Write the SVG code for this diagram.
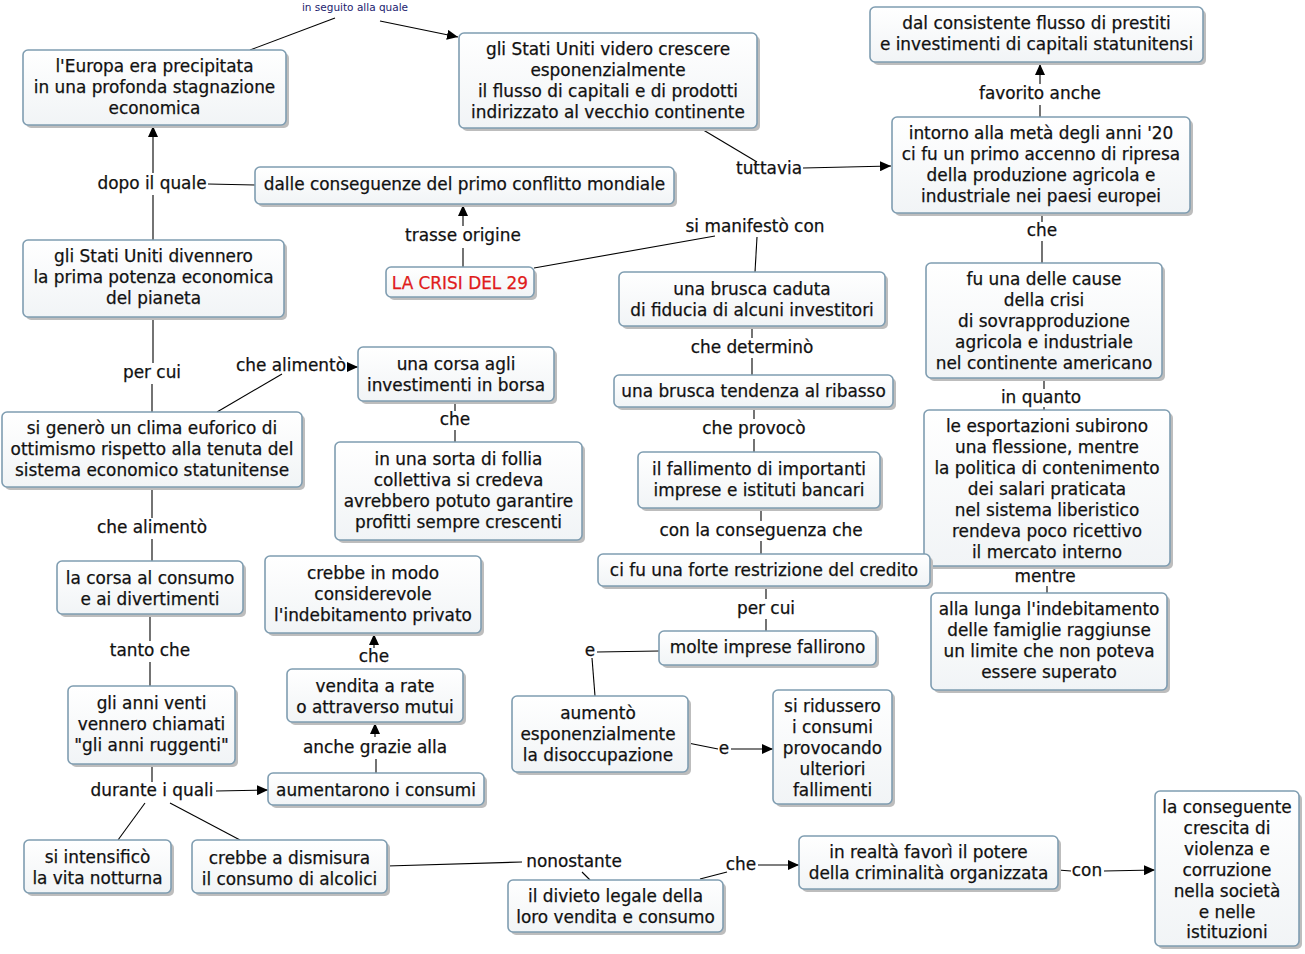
<svg xmlns="http://www.w3.org/2000/svg" width="1305" height="954" viewBox="0 0 1305 954">
<defs>
<linearGradient id="g" x1="0" y1="0" x2="0" y2="1"><stop offset="0" stop-color="#ffffff"/><stop offset="1" stop-color="#f1f4f6"/></linearGradient>
<marker id="ah" markerUnits="userSpaceOnUse" markerWidth="12" markerHeight="10" refX="11" refY="5" orient="auto"><path d="M0,0 L11,5 L0,10 Z" fill="#000"/></marker>
<style>
.n .s{fill:#bdbdbd}
.n .b{fill:url(#g);stroke:#7f9db1;stroke-width:1.6}
text{font-family:"DejaVu Sans","Liberation Sans",sans-serif;font-size:16.9px;fill:#111;stroke:#111;stroke-width:0.25;text-anchor:middle}
text.red{fill:#e01b1b;stroke:#e01b1b}
text.small{font-size:10.5px;fill:#1c1c6e;stroke:none}
#c path{fill:none;stroke:#000;stroke-width:1.1}
#c path.a{marker-end:url(#ah)}
</style>
</defs>
<rect width="1305" height="954" fill="#fff"/>
<g id="c">
<path d="M250,50 L335,18"/><path class="a" d="M380,21 L458,37"/>
<path d="M153,240 L153,195"/><path class="a" d="M153,173 L153,126"/>
<path d="M255,185 L208,184"/>
<path d="M463,267 L463,248"/><path class="a" d="M463,226 L463,205"/>
<path d="M534,268 L715,236"/><path d="M757,237 L755,272"/>
<path d="M700,128 L757,162"/><path class="a" d="M803,168 L891,166"/>
<path d="M1040,117 L1040,105"/><path class="a" d="M1040,84 L1040,64"/>
<path d="M1042,213 L1042,222"/><path d="M1042,241 L1042,263"/>
<path d="M1044,378 L1044,389"/><path d="M1044,407 L1044,410"/>
<path d="M1047,566 L1047,569"/><path d="M1047,586 L1047,593"/>
<path d="M153,317 L153,363"/><path d="M152,384 L152,412"/>
<path d="M217,412 L282,374"/><path class="a" d="M349,367 L358,367"/>
<path d="M455,401 L455,411"/><path d="M455,430 L455,442"/>
<path d="M152,487 L152,518"/><path d="M152,539 L152,561"/>
<path d="M150,614 L150,641"/><path d="M150,662 L150,686"/>
<path d="M152,764 L152,782"/><path class="a" d="M216,791 L268,790"/><path d="M145,803 L118,840"/><path d="M170,803 L240,840"/>
<path class="a" d="M374,648 L374,634"/>
<path d="M376,773 L376,759"/><path class="a" d="M375,737 L375,723"/>
<path d="M752,326 L752,338"/><path d="M752,358 L752,375"/>
<path d="M754,407 L754,419"/><path d="M754,439 L754,452"/>
<path d="M761,508 L761,521"/><path d="M761,541 L761,554"/>
<path d="M766,586 L766,599"/><path d="M766,619 L766,631"/>
<path d="M659,651 L597,652"/><path d="M592,658 L595,696"/>
<path d="M688,743 L718,749"/><path class="a" d="M731,749 L773,749"/>
<path d="M387,866 L522,862"/><path d="M582,872 L590,880"/>
<path d="M700,879 L727,872"/><path class="a" d="M758,865 L799,865"/>
<path d="M1058,870 L1071,871"/><path class="a" d="M1104,871 L1155,870"/>
</g>
<g id="labels">
<text class="small" x="355" y="11">in seguito alla quale</text>
<text x="152" y="189">dopo il quale</text>
<text x="463" y="241">trasse origine</text>
<text x="755" y="232">si manifestò con</text>
<text x="769" y="174">tuttavia</text>
<text x="1040" y="99">favorito anche</text>
<text x="1042" y="236">che</text>
<text x="1041" y="403">in quanto</text>
<text x="1045" y="582">mentre</text>
<text x="152" y="378">per cui</text>
<text x="291" y="371">che alimentò</text>
<text x="455" y="425">che</text>
<text x="152" y="533">che alimentò</text>
<text x="150" y="656">tanto che</text>
<text x="152" y="796">durante i quali</text>
<text x="374" y="662">che</text>
<text x="375" y="753">anche grazie alla</text>
<text x="752" y="353">che determinò</text>
<text x="754" y="434">che provocò</text>
<text x="761" y="536">con la conseguenza che</text>
<text x="766" y="614">per cui</text>
<text x="590" y="656">e</text>
<text x="724" y="754">e</text>
<text x="574" y="867">nonostante</text>
<text x="741" y="870">che</text>
<text x="1087" y="876">con</text>
</g>
<g id="n1" class="n"><rect class="s" x="26" y="53" width="263" height="75" rx="5"/><rect class="b" x="23" y="50" width="263" height="75" rx="5"/><text x="154.5"><tspan x="154.5" y="71.5">l'Europa era precipitata</tspan><tspan x="154.5" y="92.5">in una profonda stagnazione</tspan><tspan x="154.5" y="113.5">economica</tspan></text></g>
<g id="n2" class="n"><rect class="s" x="462" y="36" width="298" height="95" rx="5"/><rect class="b" x="459" y="33" width="298" height="95" rx="5"/><text><tspan x="608" y="54.5">gli Stati Uniti videro crescere</tspan><tspan x="608" y="75.5">esponenzialmente</tspan><tspan x="608" y="96.5">il flusso di capitali e di prodotti</tspan><tspan x="608" y="117.5">indirizzato al vecchio continente</tspan></text></g>
<g id="n3" class="n"><rect class="s" x="873" y="10" width="333" height="55" rx="5"/><rect class="b" x="870" y="7" width="333" height="55" rx="5"/><text><tspan x="1036.5" y="28.5">dal consistente flusso di prestiti</tspan><tspan x="1036.5" y="49.5">e investimenti di capitali statunitensi</tspan></text></g>
<g id="n4" class="n"><rect class="s" x="895" y="120" width="298" height="96" rx="5"/><rect class="b" x="892" y="117" width="298" height="96" rx="5"/><text><tspan x="1041" y="138.5">intorno alla metà degli anni '20</tspan><tspan x="1041" y="159.5">ci fu un primo accenno di ripresa</tspan><tspan x="1041" y="180.5">della produzione agricola e</tspan><tspan x="1041" y="201.5">industriale nei paesi europei</tspan></text></g>
<g id="n5" class="n"><rect class="s" x="258" y="170" width="419" height="37" rx="5"/><rect class="b" x="255" y="167" width="419" height="37" rx="5"/><text x="464.5" y="189.5">dalle conseguenze del primo conflitto mondiale</text></g>
<g id="n6" class="n"><rect class="s" x="389" y="270" width="148" height="30" rx="5"/><rect class="b" x="386" y="267" width="148" height="30" rx="5"/><text class="red" x="460" y="288.5">LA CRISI DEL 29</text></g>
<g id="n7" class="n"><rect class="s" x="26" y="243" width="261" height="77" rx="5"/><rect class="b" x="23" y="240" width="261" height="77" rx="5"/><text><tspan x="153.5" y="261.5">gli Stati Uniti divennero</tspan><tspan x="153.5" y="282.5">la prima potenza economica</tspan><tspan x="153.5" y="303.5">del pianeta</tspan></text></g>
<g id="n8" class="n"><rect class="s" x="622" y="275" width="266" height="54" rx="5"/><rect class="b" x="619" y="272" width="266" height="54" rx="5"/><text><tspan x="752" y="294.5">una brusca caduta</tspan><tspan x="752" y="315.5">di fiducia di alcuni investitori</tspan></text></g>
<g id="n9" class="n"><rect class="s" x="929" y="266" width="236" height="115" rx="5"/><rect class="b" x="926" y="263" width="236" height="115" rx="5"/><text><tspan x="1044" y="284.5">fu una delle cause</tspan><tspan x="1044" y="305.5">della crisi</tspan><tspan x="1044" y="326.5">di sovrapproduzione</tspan><tspan x="1044" y="347.5">agricola e industriale</tspan><tspan x="1044" y="368.5">nel continente americano</tspan></text></g>
<g id="n10" class="n"><rect class="s" x="361" y="350" width="196" height="54" rx="5"/><rect class="b" x="358" y="347" width="196" height="54" rx="5"/><text><tspan x="456" y="369.5">una corsa agli</tspan><tspan x="456" y="390.5">investimenti in borsa</tspan></text></g>
<g id="n11" class="n"><rect class="s" x="5" y="415" width="300" height="75" rx="5"/><rect class="b" x="2" y="412" width="300" height="75" rx="5"/><text><tspan x="152" y="433.5">si generò un clima euforico di</tspan><tspan x="152" y="454.5">ottimismo rispetto alla tenuta del</tspan><tspan x="152" y="475.5">sistema economico statunitense</tspan></text></g>
<g id="n12" class="n"><rect class="s" x="617" y="378" width="279" height="32" rx="5"/><rect class="b" x="614" y="375" width="279" height="32" rx="5"/><text x="753.5" y="396.5">una brusca tendenza al ribasso</text></g>
<g id="n13" class="n"><rect class="s" x="927" y="413" width="246" height="156" rx="5"/><rect class="b" x="924" y="410" width="246" height="156" rx="5"/><text><tspan x="1047" y="431.5">le esportazioni subirono</tspan><tspan x="1047" y="452.5">una flessione, mentre</tspan><tspan x="1047" y="473.5">la politica di contenimento</tspan><tspan x="1047" y="494.5">dei salari praticata</tspan><tspan x="1047" y="515.5">nel sistema liberistico</tspan><tspan x="1047" y="536.5">rendeva poco ricettivo</tspan><tspan x="1047" y="557.5">il mercato interno</tspan></text></g>
<g id="n14" class="n"><rect class="s" x="338" y="445" width="247" height="98" rx="5"/><rect class="b" x="335" y="442" width="247" height="98" rx="5"/><text><tspan x="458.5" y="464.5">in una sorta di follia</tspan><tspan x="458.5" y="485.5">collettiva si credeva</tspan><tspan x="458.5" y="506.5">avrebbero potuto garantire</tspan><tspan x="458.5" y="527.5">profitti sempre crescenti</tspan></text></g>
<g id="n15" class="n"><rect class="s" x="641" y="455" width="242" height="56" rx="5"/><rect class="b" x="638" y="452" width="242" height="56" rx="5"/><text><tspan x="759" y="474.5">il fallimento di importanti</tspan><tspan x="759" y="495.5">imprese e istituti bancari</tspan></text></g>
<g id="n16" class="n"><rect class="s" x="601" y="557" width="332" height="32" rx="5"/><rect class="b" x="598" y="554" width="332" height="32" rx="5"/><text x="764" y="575.5">ci fu una forte restrizione del credito</text></g>
<g id="n17" class="n"><rect class="s" x="60" y="564" width="186" height="53" rx="5"/><rect class="b" x="57" y="561" width="186" height="53" rx="5"/><text><tspan x="150" y="583.5">la corsa al consumo</tspan><tspan x="150" y="604.5">e ai divertimenti</tspan></text></g>
<g id="n18" class="n"><rect class="s" x="268" y="559" width="216" height="77" rx="5"/><rect class="b" x="265" y="556" width="216" height="77" rx="5"/><text><tspan x="373" y="578.5">crebbe in modo</tspan><tspan x="373" y="599.5">considerevole</tspan><tspan x="373" y="620.5">l'indebitamento privato</tspan></text></g>
<g id="n19" class="n"><rect class="s" x="934" y="596" width="236" height="97" rx="5"/><rect class="b" x="931" y="593" width="236" height="97" rx="5"/><text><tspan x="1049" y="614.5">alla lunga l'indebitamento</tspan><tspan x="1049" y="635.5">delle famiglie raggiunse</tspan><tspan x="1049" y="656.5">un limite che non poteva</tspan><tspan x="1049" y="677.5">essere superato</tspan></text></g>
<g id="n20" class="n"><rect class="s" x="662" y="634" width="217" height="34" rx="5"/><rect class="b" x="659" y="631" width="217" height="34" rx="5"/><text x="767.5" y="652.5">molte imprese fallirono</text></g>
<g id="n21" class="n"><rect class="s" x="290" y="672" width="176" height="53" rx="5"/><rect class="b" x="287" y="669" width="176" height="53" rx="5"/><text><tspan x="375" y="691.5">vendita a rate</tspan><tspan x="375" y="712.5">o attraverso mutui</tspan></text></g>
<g id="n22" class="n"><rect class="s" x="71" y="689" width="167" height="78" rx="5"/><rect class="b" x="68" y="686" width="167" height="78" rx="5"/><text><tspan x="151.5" y="708.5">gli anni venti</tspan><tspan x="151.5" y="729.5">vennero chiamati</tspan><tspan x="151.5" y="750.5">"gli anni ruggenti"</tspan></text></g>
<g id="n23" class="n"><rect class="s" x="515" y="699" width="176" height="76" rx="5"/><rect class="b" x="512" y="696" width="176" height="76" rx="5"/><text><tspan x="598" y="718.5">aumentò</tspan><tspan x="598" y="739.5">esponenzialmente</tspan><tspan x="598" y="760.5">la disoccupazione</tspan></text></g>
<g id="n24" class="n"><rect class="s" x="776" y="693" width="119" height="114" rx="5"/><rect class="b" x="773" y="690" width="119" height="114" rx="5"/><text><tspan x="832.5" y="711.5">si ridussero</tspan><tspan x="832.5" y="732.5">i consumi</tspan><tspan x="832.5" y="753.5">provocando</tspan><tspan x="832.5" y="774.5">ulteriori</tspan><tspan x="832.5" y="795.5">fallimenti</tspan></text></g>
<g id="n25" class="n"><rect class="s" x="271" y="776" width="216" height="32" rx="5"/><rect class="b" x="268" y="773" width="216" height="32" rx="5"/><text x="376" y="795.5">aumentarono i consumi</text></g>
<g id="n26" class="n"><rect class="s" x="27" y="843" width="147" height="53" rx="5"/><rect class="b" x="24" y="840" width="147" height="53" rx="5"/><text><tspan x="97.5" y="862.5">si intensificò</tspan><tspan x="97.5" y="883.5">la vita notturna</tspan></text></g>
<g id="n27" class="n"><rect class="s" x="195" y="843" width="195" height="53" rx="5"/><rect class="b" x="192" y="840" width="195" height="53" rx="5"/><text><tspan x="289.5" y="863.5">crebbe a dismisura</tspan><tspan x="289.5" y="884.5">il consumo di alcolici</tspan></text></g>
<g id="n28" class="n"><rect class="s" x="511" y="883" width="215" height="52" rx="5"/><rect class="b" x="508" y="880" width="215" height="52" rx="5"/><text><tspan x="615.5" y="901.5">il divieto legale della</tspan><tspan x="615.5" y="922.5">loro vendita e consumo</tspan></text></g>
<g id="n29" class="n"><rect class="s" x="802" y="839" width="259" height="53" rx="5"/><rect class="b" x="799" y="836" width="259" height="53" rx="5"/><text><tspan x="928.5" y="857.5">in realtà favorì il potere</tspan><tspan x="928.5" y="878.5">della criminalità organizzata</tspan></text></g>
<g id="n30" class="n"><rect class="s" x="1158" y="794" width="144" height="155" rx="5"/><rect class="b" x="1155" y="791" width="144" height="155" rx="5"/><text><tspan x="1227" y="812.5">la conseguente</tspan><tspan x="1227" y="833.5">crescita di</tspan><tspan x="1227" y="854.5">violenza e</tspan><tspan x="1227" y="875.5">corruzione</tspan><tspan x="1227" y="896.5">nella società</tspan><tspan x="1227" y="917.5">e nelle</tspan><tspan x="1227" y="937.5">istituzioni</tspan></text></g>
</svg>
